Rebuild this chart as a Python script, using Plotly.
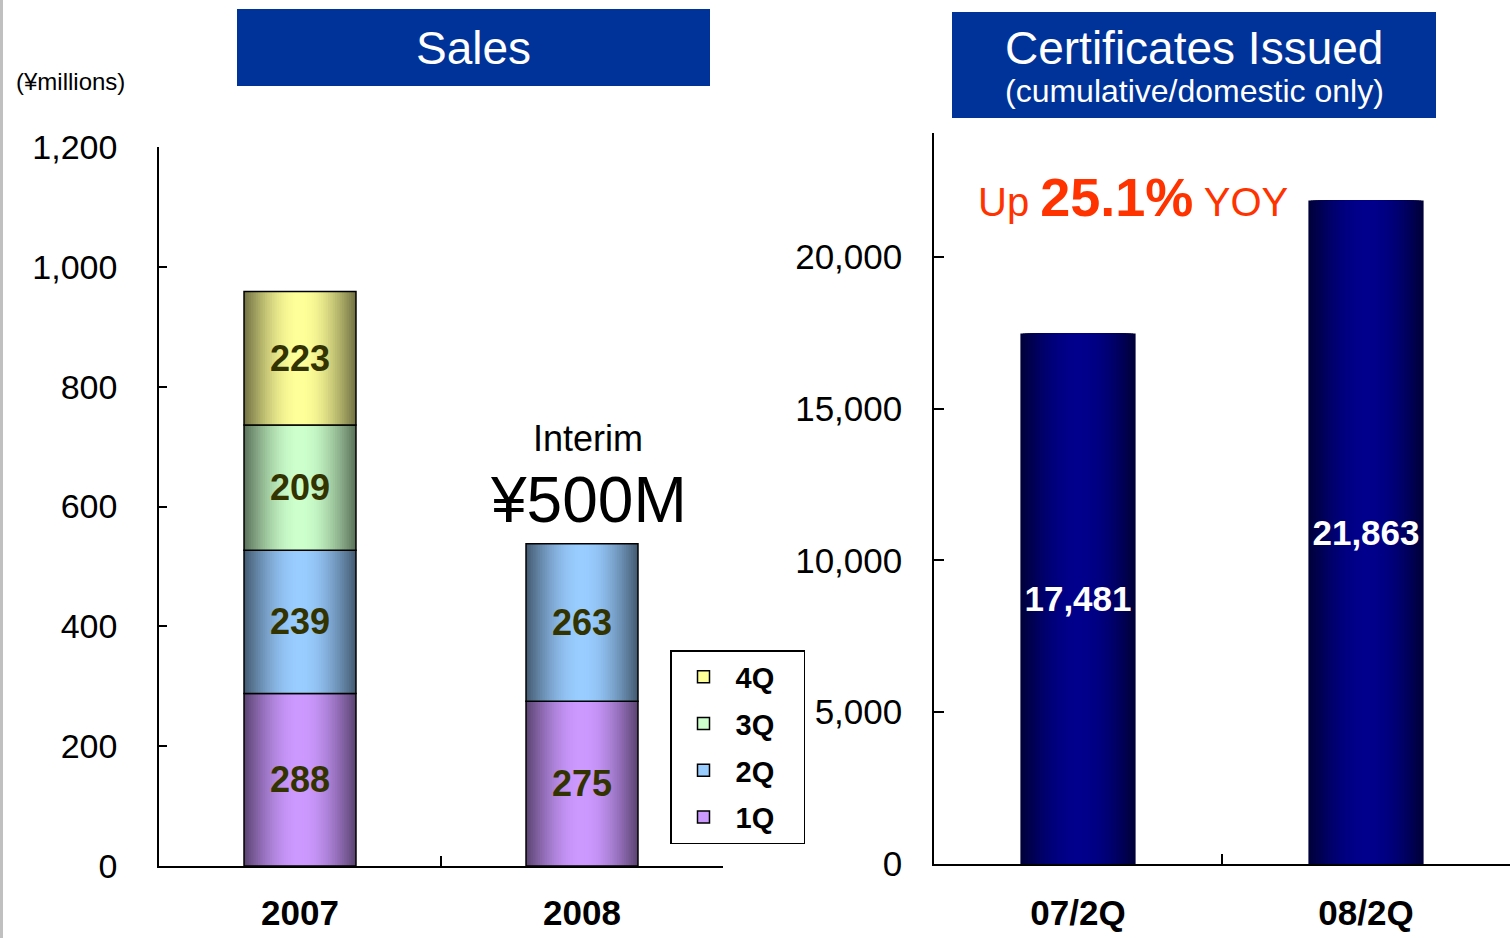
import math
import plotly.graph_objects as go

# ---------------- data ----------------
years = ["2007", "2008"]
q1 = [288, 275]
q2 = [239, 263]
q3 = [209, None]
q4 = [223, None]
quarter_names = ["1Q", "2Q", "3Q", "4Q"]
quarter_values = [q1, q2, q3, q4]

cert_periods = ["07/2Q", "08/2Q"]
cert_values = [17481, 21863]

sales_ticks = [0, 200, 400, 600, 800, 1000, 1200]
cert_ticks = [0, 5000, 10000, 15000, 20000]

# ---------------- styles ----------------
W, H = 1510, 938
NARROW = "Liberation Sans Narrow, Arial Narrow, Liberation Sans, Arial, sans-serif"
SANS = "Liberation Sans, Arial, sans-serif"

q_center = [(204, 153, 255), (153, 204, 255), (204, 255, 204), (255, 255, 153)]
q_edge_factor = 0.46
cert_center = (0, 0, 140)
cert_edge = (0, 0, 58)
N_LAYERS = 24
BAR_W_LEFT = 0.397
BAR_W_RIGHT = 0.40
CERT_MAX = 24100


def px_x(p):
    return p / W


def px_y(p):
    return 1 - p / H


def mix(c0, c1, f):
    return "rgb(%d,%d,%d)" % tuple(round(a + (b - a) * f) for a, b in zip(c0, c1))


def profile(t):
    return math.sin(t * math.pi / 2)


fig = go.Figure()

# ---- left: stacked sales bars with horizontal gradient ----
cum = [0, 0]
bases_all = []
for vals in quarter_values:
    bases_all.append(list(cum))
    cum = [c + (v or 0) for c, v in zip(cum, vals)]

for qi, (name, vals) in enumerate(zip(quarter_names, quarter_values)):
    center = q_center[qi]
    edge = tuple(c * q_edge_factor for c in center)
    bases = bases_all[qi]
    for i in range(N_LAYERS):
        t = i / (N_LAYERS - 1)
        fig.add_trace(go.Bar(
            x=years, y=vals, base=bases,
            width=BAR_W_LEFT * (N_LAYERS - i) / N_LAYERS,
            marker=dict(color=mix(edge, center, profile(t)), line=dict(width=0)),
            showlegend=False, hoverinfo="skip", xaxis="x", yaxis="y",
        ))
    r, g, b = center
    fig.add_trace(go.Bar(
        x=years, y=vals, base=bases, width=BAR_W_LEFT,
        name=name + "\u00a0\u00a0\u00a0", legendgroup=name, legendrank=len(quarter_names) - qi,
        marker=dict(
            color=[0] * len(vals), cmin=0, cmax=1, showscale=False,
            colorscale=[[0, "rgba(%d,%d,%d,0)" % (r, g, b)],
                        [0.5, "rgb(%d,%d,%d)" % (r, g, b)],
                        [1, "rgba(%d,%d,%d,0)" % (r, g, b)]],
            line=dict(color="black", width=1.5)),
        text=[str(v) if v is not None else "" for v in vals],
        textposition="inside", insidetextanchor="middle", constraintext="none",
        textangle=0,
        textfont=dict(family=SANS, size=36, color="#333300", weight="bold"),
        xaxis="x", yaxis="y", hoverinfo="skip",
    ))

# ---- right: certificates bars ----
for i in range(N_LAYERS):
    t = i / (N_LAYERS - 1)
    fig.add_trace(go.Bar(
        x=cert_periods, y=cert_values,
        width=BAR_W_RIGHT * (N_LAYERS - i) / N_LAYERS,
        marker=dict(color=mix(cert_edge, cert_center, profile(t)), line=dict(width=0)),
        showlegend=False, hoverinfo="skip", xaxis="x2", yaxis="y2",
    ))
fig.add_trace(go.Bar(
    x=cert_periods, y=cert_values, width=BAR_W_RIGHT,
    marker=dict(color="rgba(0,0,0,0)", line=dict(width=0)),
    text=[f"{v:,}" for v in cert_values],
    textposition="inside", insidetextanchor="middle", constraintext="none",
    textangle=0,
    textfont=dict(family=SANS, size=35, color="white", weight="bold"),
    showlegend=False, hoverinfo="skip", xaxis="x2", yaxis="y2",
))

axis_common = dict(showline=True, linecolor="black", linewidth=1.5, showgrid=False,
                   zeroline=False, ticks="inside", tickcolor="black", tickwidth=1.5,
                   fixedrange=True, automargin=False)


def label(text, x, y, size, color="black", family=SANS, **kw):
    return dict(text=text, x=px_x(x), y=px_y(y), xref="paper", yref="paper",
                xanchor=kw.pop("xanchor", "center"), yanchor="middle",
                showarrow=False, font=dict(family=family, size=size, color=color), **kw)


fig.update_layout(
    width=W, height=H,
    margin=dict(l=0, r=0, t=0, b=0, autoexpand=False),
    paper_bgcolor="white", plot_bgcolor="white",
    barmode="overlay",
    xaxis=dict(domain=[px_x(159), px_x(723)], type="category", range=[-0.5, 1.5],
               tickson="boundaries", ticklen=10, anchor="y",
               tickfont=dict(family=SANS, size=35, color="black", weight="bold"),
               ticklabelstandoff=15, **axis_common),
    yaxis=dict(domain=[px_y(866), px_y(147)], range=[0, 1200], anchor="x",
               tickvals=sales_ticks, ticktext=[f"{v:,}" for v in sales_ticks],
               ticklen=8, tickfont=dict(family=SANS, size=34, color="black"),
               ticklabelstandoff=33, **axis_common),
    xaxis2=dict(domain=[px_x(934), 1.0], type="category", range=[-0.5, 1.5],
                tickson="boundaries", ticklen=10, anchor="y2",
                tickfont=dict(family=SANS, size=35, color="black", weight="bold"),
                ticklabelstandoff=17, **axis_common),
    yaxis2=dict(domain=[px_y(864), px_y(864 - CERT_MAX * 151.75 / 5000)], range=[0, CERT_MAX],
                anchor="x2", tickvals=cert_ticks, ticktext=[f"{v:,}" for v in cert_ticks],
                ticklen=10, tickfont=dict(family=SANS, size=35, color="black"),
                ticklabelstandoff=23, **axis_common),
    legend=dict(x=px_x(670), y=px_y(650), xanchor="left", yanchor="top",
                traceorder="grouped", tracegroupgap=6, itemwidth=54,
                bgcolor="white", bordercolor="black",
                borderwidth=1.5, font=dict(family=SANS, size=29, color="black",
                                           weight="bold")),
    showlegend=True,
    shapes=[
        dict(type="rect", xref="paper", yref="paper", x0=px_x(237), x1=px_x(710),
             y0=px_y(86), y1=px_y(9), fillcolor="#003399", line=dict(width=0), layer="below"),
        dict(type="rect", xref="paper", yref="paper", x0=px_x(952), x1=px_x(1436),
             y0=px_y(118), y1=px_y(12), fillcolor="#003399", line=dict(width=0), layer="below"),
        dict(type="rect", xref="paper", yref="paper", x0=0, x1=px_x(3),
             y0=0, y1=1, fillcolor="#c0c0c0", line=dict(width=0), layer="below"),
    ],
    annotations=[
        label("Sales", 473, 48, 46, "white", NARROW),
        label("Certificates Issued", 1194, 48, 46, "white", NARROW),
        label("(cumulative/domestic only)", 1194, 91, 32, "white", NARROW),
        label("(¥millions)", 70, 82, 24, "black", NARROW),
        label("Interim", 588, 438, 36),
        label("¥500M", 588, 500, 64),
        label("Up <b><span style='font-size:54px'>25.1%</span></b> YOY", 1133, 197, 40,
              "#ff3300"),
    ],
)

fig.write_html("out.html", config={"displayModeBar": False},
               post_script="document.body.style.margin='0';")
